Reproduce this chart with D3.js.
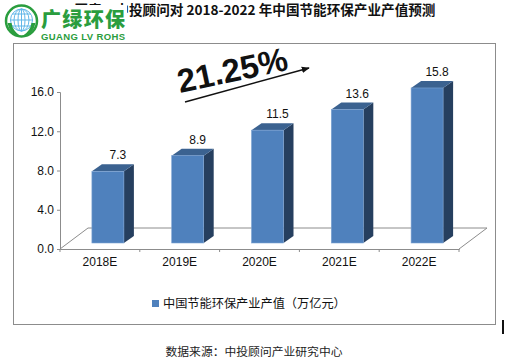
<!DOCTYPE html>
<html><head><meta charset="utf-8">
<script src="https://cdn.jsdelivr.net/npm/d3@7"></script>
<style>body{margin:0;background:#fff}svg{display:block}</style>
</head><body>
<script>
const categories = ["2018E","2019E","2020E","2021E","2022E"];
const values = [7.3, 8.9, 11.5, 13.6, 15.8];
const yTicks = [0, 4, 8, 12, 16];
const seriesName = "中国节能环保产业产值（万亿元）";
const titleText = "图表：中投顾问对 2018-2022 年中国节能环保产业产值预测";
const growthText = "21.25%";
const sourceText = "数据来源：中投顾问产业研究中心";

const W = 522, H = 360;
const svg = d3.select("body").append("svg").attr("width", W).attr("height", H);
const sans = "'Liberation Sans', Arial, sans-serif";
const cjk = "'Noto Sans CJK SC', sans-serif";

// title
svg.append("text").attr("x", 255).attr("y", 15).attr("text-anchor", "middle")
  .attr("font-family", cjk).attr("font-weight", "bold").attr("font-size", 13.6)
  .attr("fill", "#111").text(titleText);

// logo
const logo = svg.append("g");
logo.append("rect").attr("x", 3).attr("y", 5).attr("width", 124).attr("height", 37).attr("fill", "#fff");
const green = "#2a9d3e";
const cx = 21.5, cy = 21, r = 15.5;
logo.append("circle").attr("cx", cx).attr("cy", cy).attr("r", r).attr("fill", "#fff").attr("stroke", green).attr("stroke-width", 2.5);
const gl = logo.append("g").attr("stroke", "#62b7e8").attr("fill", "none").attr("stroke-width", 1);
gl.append("circle").attr("cx", cx).attr("cy", cy - 1).attr("r", 11);
[3.5, 7.5].forEach(rx => gl.append("ellipse").attr("cx", cx).attr("cy", cy - 1).attr("rx", rx).attr("ry", 11));
gl.append("line").attr("x1", cx).attr("x2", cx).attr("y1", cy - 12).attr("y2", cy + 10);
[-6, 0, 6].forEach(dy => {
  const hw = Math.sqrt(121 - dy * dy);
  gl.append("line").attr("x1", cx - hw).attr("x2", cx + hw).attr("y1", cy - 1 + dy).attr("y2", cy - 1 + dy);
});
logo.append("path").attr("fill", green)
  .attr("d", `M${cx-14},${cy+2} Q${cx-12},${cy+14} ${cx-1},${cy+15} Q${cx-9},${cy+10} ${cx-10},${cy+2} Z`);
logo.append("path").attr("fill", green)
  .attr("d", `M${cx+14},${cy+2} Q${cx+12},${cy+14} ${cx+1},${cy+15} Q${cx+9},${cy+10} ${cx+10},${cy+2} Z`);
logo.append("text").attr("x", 41).attr("y", 26.5).attr("font-family", cjk).attr("font-weight", "900")
  .attr("font-size", 20).attr("fill", green).attr("textLength", 84).text("广绿环保");
logo.append("text").attr("x", 41).attr("y", 39.5).attr("font-family", sans).attr("font-weight", "bold")
  .attr("font-size", 9.5).attr("fill", green).attr("textLength", 84).text("GUANG LV ROHS");

// chart frame
svg.append("rect").attr("x", 13.5).attr("y", 43.5).attr("width", 482).attr("height", 281)
  .attr("fill", "none").attr("stroke", "#8c8c8c");

// scales
const x = d3.scaleBand().domain(categories).range([60, 459]);
const y = d3.scaleLinear().domain([0, 16]).range([249, 92]);
const depthX = 28, depthY = 21; // floor depth
const barW = 32, barShift = 8, liftY = 6, sideDX = 10, sideDY = 7;

// floor
const axisCol = "#8c8c8c";
const fl = svg.append("g").attr("stroke", axisCol).attr("fill", "none");
fl.append("path").attr("d", `M60,${y(0)}L${60+depthX},${y(0)-depthY}H${459+depthX}L459,${y(0)}`);

// y axis
const yAxis = svg.append("g").attr("transform", "translate(60,0)")
  .call(d3.axisLeft(y).tickValues(yTicks).tickSize(3).tickFormat(d3.format(".1f")));
yAxis.select(".domain").attr("stroke", axisCol);
yAxis.selectAll(".tick line").attr("stroke", axisCol);
yAxis.selectAll("text").attr("font-family", sans).attr("font-size", 12).attr("fill", "#111").attr("x", -6);

// x axis
const xAxis = svg.append("g").attr("transform", `translate(0,${y(0)})`)
  .call(d3.axisBottom(x).tickSize(0).tickPadding(8));
xAxis.select(".domain").attr("stroke", axisCol);
xAxis.selectAll("text").attr("font-family", sans).attr("font-size", 12).attr("fill", "#111");
const bounds = categories.map(c => x(c)).concat([x(categories[categories.length-1]) + x.bandwidth()]);
svg.append("g").selectAll("line").data(bounds).join("line")
  .attr("x1", d => d).attr("x2", d => d).attr("y1", y(0)).attr("y2", y(0) + 3).attr("stroke", axisCol);

// bars
const bars = svg.append("g").selectAll("g").data(categories.map((c, i) => ({c, v: values[i]}))).join("g");
const bx = d => x(d.c) + x.bandwidth() / 2 + barShift - barW / 2;
const by0 = y(0) - liftY;
const byT = d => y(d.v) - liftY;
bars.append("path").attr("fill", "#263f5f")
  .attr("d", d => `M${bx(d)+barW},${byT(d)}L${bx(d)+barW+sideDX},${byT(d)-sideDY}V${by0-sideDY}L${bx(d)+barW},${by0}Z`);
bars.append("path").attr("fill", "#3b6290")
  .attr("d", d => `M${bx(d)},${byT(d)}L${bx(d)+sideDX},${byT(d)-sideDY}H${bx(d)+barW+sideDX}L${bx(d)+barW},${byT(d)}Z`);
bars.append("rect").attr("x", bx).attr("y", byT).attr("width", barW).attr("height", d => by0 - byT(d))
  .attr("fill", "#4f81bd").attr("stroke", "#7da3d3").attr("stroke-width", 0.6);
bars.append("text").attr("x", d => bx(d) + barW / 2 + sideDX)
  .attr("y", d => byT(d) - sideDY - 5).attr("text-anchor", "middle")
  .attr("font-family", sans).attr("font-size", 12).attr("fill", "#111").text(d => d.v.toFixed(1));

// growth annotation
svg.append("defs").append("marker").attr("id", "ah").attr("viewBox", "0 0 10 10").attr("refX", 9).attr("refY", 5)
  .attr("markerWidth", 8).attr("markerHeight", 8).attr("markerUnits", "userSpaceOnUse").attr("orient", "auto")
  .append("path").attr("d", "M0,1L10,5L0,9Z").attr("fill", "#111");
svg.append("line").attr("x1", 185).attr("y1", 102).attr("x2", 309).attr("y2", 68)
  .attr("stroke", "#111").attr("stroke-width", 1.5).attr("marker-end", "url(#ah)");
svg.append("text").attr("transform", "translate(180,93) rotate(-12)")
  .attr("font-family", sans).attr("font-weight", "bold").attr("font-size", 33).attr("fill", "#111")
  .text(growthText);

// legend
svg.append("rect").attr("x", 152).attr("y", 300).attr("width", 7).attr("height", 7).attr("fill", "#4f81bd");
svg.append("text").attr("x", 163).attr("y", 308).attr("font-family", cjk).attr("font-size", 12.2)
  .attr("fill", "#111").text(seriesName);

// small mark at right
svg.append("rect").attr("x", 502).attr("y", 320).attr("width", 2).attr("height", 14).attr("fill", "#111");

// source
svg.append("text").attr("x", 254).attr("y", 356).attr("text-anchor", "middle").attr("font-family", cjk)
  .attr("font-size", 11.8).attr("fill", "#222").text(sourceText);
</script>
</body></html>
